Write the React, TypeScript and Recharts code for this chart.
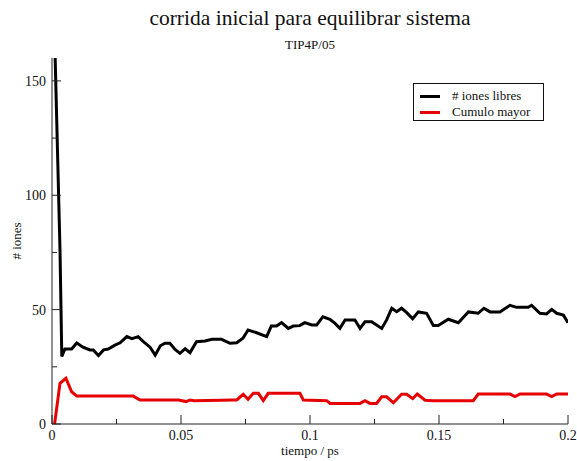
import { LineChart, Line, XAxis, YAxis, Legend } from 'recharts'

const SERIF = "'Liberation Serif', 'DejaVu Serif', serif"
const AXIS = '#222'

const xTicks = [0, 0.025, 0.05, 0.075, 0.1, 0.125, 0.15, 0.175, 0.2]
const xMajor = [0, 0.05, 0.1, 0.15, 0.2]
const yTicks = [0, 25, 50, 75, 100, 125, 150]
const yMajor = [0, 50, 100, 150]

// # iones libres
const tiempoLibres = [
  0.001, 0.0031, 0.0038, 0.005, 0.0076, 0.0096, 0.012, 0.0147, 0.016, 0.018,
  0.02, 0.0218, 0.0244, 0.0264, 0.029, 0.031, 0.0334, 0.0354, 0.038, 0.04,
  0.042, 0.0438, 0.0457, 0.0477, 0.0496, 0.0516, 0.0535, 0.056, 0.0593, 0.062,
  0.0657, 0.069, 0.0716, 0.074, 0.076, 0.0793, 0.0832, 0.085, 0.087, 0.089,
  0.0916, 0.0935, 0.096, 0.098, 0.1007, 0.1026, 0.105, 0.1077, 0.1097, 0.1116,
  0.1136, 0.1174, 0.1194, 0.1213, 0.1239, 0.1278, 0.1297, 0.1317, 0.1336, 0.1355,
  0.1375, 0.1398, 0.142, 0.1452, 0.1478, 0.1497, 0.1536, 0.1575, 0.1614, 0.1652,
  0.1674, 0.1698, 0.1736, 0.1775, 0.1801, 0.1846, 0.1859, 0.1891, 0.1917, 0.1937,
  0.1956, 0.1982, 0.2,
]
const ionesLibres = [
  170, 76, 29.5, 32.8, 32.8, 35.4, 33.6, 32.4, 32.4, 29.9,
  32.4, 32.8, 34.5, 35.5, 38.2, 37.3, 38.2, 36, 33.6, 30.1,
  34.2, 35.3, 35.3, 32.6, 30.9, 32.9, 31.2, 36, 36.3, 37,
  37, 35.3, 35.5, 37.5, 41.1, 39.9, 38.2, 42.8, 42.8, 44.3,
  41.8, 42.8, 43, 44.3, 43.3, 43.3, 46.9, 45.8, 44, 41.8,
  45.5, 45.5, 41.8, 44.7, 44.7, 41.8, 45.5, 50.6, 49.1, 50.6,
  48.7, 46, 49, 48.4, 43.1, 43.1, 45.8, 44.3, 49, 48.4,
  50.6, 49, 49, 51.9, 51, 51, 51.9, 48.4, 48.1, 50.1,
  48.4, 47.6, 44.3,
]

// Cumulo mayor
const tiempoCumulo = [
  0.001, 0.0031, 0.0054, 0.0076, 0.0096, 0.0315, 0.0341, 0.049, 0.052, 0.0535,
  0.055, 0.0703, 0.0716, 0.0741, 0.076, 0.078, 0.08, 0.0819, 0.0838, 0.0961,
  0.0974, 0.1065, 0.1078, 0.1194, 0.1213, 0.1233, 0.1258, 0.1278, 0.1297, 0.1323,
  0.1355, 0.1375, 0.1398, 0.1416, 0.1446, 0.1478, 0.1633, 0.1652, 0.1775, 0.1795,
  0.1814, 0.1917, 0.1937, 0.1956, 0.2,
]
const ionesCumulo = [
  0, 17.8, 20, 14.1, 12.2, 12.2, 10.5, 10.5, 9.8, 10.5,
  10.2, 10.5, 10.5, 13, 10.8, 13.4, 13.4, 10.2, 13.4, 13.4,
  10.5, 10.2, 9, 9, 10.2, 9, 9, 11.9, 11.9, 9.3,
  13, 13, 11.1, 13.1, 10.4, 10.2, 10.2, 13.1, 13.1, 12,
  13.1, 13.1, 12, 13.1, 13.1,
]

const libres = tiempoLibres.map((t, i) => ({ t, v: ionesLibres[i] }))
const cumulo = tiempoCumulo.map((t, i) => ({ t, v: ionesCumulo[i] }))

const isMajor = (list: number[], v: number) => list.some((m) => Math.abs(m - v) < 1e-9)
const tickLen = (major: boolean) => (major ? 9 : 5)
const labelStyle = { fontSize: 14, fontFamily: SERIF, fill: '#111' }

// custom ticks so they point into the plot, xmgrace style
function LeftTick({ x, y, payload }: any) {
  const major = isMajor(yMajor, payload.value)
  const edge = x + 6
  return (
    <g>
      <line x1={edge} x2={edge + tickLen(major)} y1={y} y2={y} stroke={AXIS} />
      {major && <text x={x} y={y} dy={5} textAnchor="end" style={labelStyle}>{payload.value}</text>}
    </g>
  )
}

function BottomTick({ x, y, payload }: any) {
  const major = isMajor(xMajor, payload.value)
  const edge = y - 6
  return (
    <g>
      <line x1={x} x2={x} y1={edge} y2={edge - tickLen(major)} stroke={AXIS} />
      {major && <text x={x} y={y} dy={10} textAnchor="middle" style={labelStyle}>{payload.value}</text>}
    </g>
  )
}

function TopTick({ x, y, payload }: any) {
  const major = isMajor(xMajor, payload.value)
  return <line x1={x} x2={x} y1={y} y2={y + tickLen(major)} stroke={AXIS} />
}

function RightTick({ x, y, payload }: any) {
  const major = isMajor(yMajor, payload.value)
  return <line x1={x} x2={x - tickLen(major)} y1={y} y2={y} stroke={AXIS} />
}

function LegendBox({ payload }: any) {
  return (
    <div style={{ border: '1px solid #111', background: '#fff', padding: '4px 6px', width: 131, height: 38, boxSizing: 'border-box', fontFamily: SERIF, fontSize: 13, color: '#111' }}>
      {(payload || []).map((p: any) => (
        <div key={p.value} style={{ display: 'flex', alignItems: 'center', height: 16, lineHeight: '16px' }}>
          <span style={{ display: 'inline-block', width: 20, height: 3, background: p.color, marginRight: 12 }} />
          <span>{p.value}</span>
        </div>
      ))}
    </div>
  )
}

export default function App() {
  return (
    <div style={{ position: 'absolute', left: 0, top: 0, width: 577, height: 461, background: '#fff', fontFamily: SERIF }}>
      <div style={{ position: 'absolute', left: 52, width: 516, top: 5, textAlign: 'center', fontSize: 21.5, lineHeight: '26px', color: '#111' }}>
        corrida inicial para equilibrar sistema
      </div>
      <div style={{ position: 'absolute', left: 52, width: 516, top: 37, textAlign: 'center', fontSize: 13, lineHeight: '16px', color: '#111' }}>
        TIP4P/05
      </div>
      <div style={{ position: 'absolute', left: 52, width: 516, top: 444, textAlign: 'center', fontSize: 13, lineHeight: '14px', color: '#111' }}>
        tiempo / ps
      </div>
      <div style={{ position: 'absolute', left: 17, top: 241, transform: 'translate(-50%, -50%) rotate(-90deg)', fontSize: 13, lineHeight: '16px', whiteSpace: 'nowrap', color: '#111' }}>
        # iones
      </div>
      <LineChart width={577} height={461} margin={{ top: 58, right: 9, bottom: 0, left: 0 }}>
        <XAxis dataKey="t" type="number" domain={[0, 0.2]} ticks={xTicks} interval={0} allowDataOverflow
          height={37} tickSize={0} tickMargin={6} tick={<BottomTick />} axisLine={{ stroke: AXIS }} />
        <XAxis xAxisId="top" orientation="top" type="number" domain={[0, 0.2]} ticks={xTicks} interval={0}
          height={0} tickSize={0} tickMargin={0} tick={<TopTick />} axisLine={{ stroke: AXIS }} />
        <YAxis type="number" domain={[0, 160]} ticks={yTicks} interval={0} allowDataOverflow
          width={52} tickSize={0} tickMargin={6} tick={<LeftTick />} axisLine={{ stroke: AXIS }} />
        <YAxis yAxisId="right" orientation="right" type="number" domain={[0, 160]} ticks={yTicks} interval={0}
          width={0} tickSize={0} tickMargin={0} tick={<RightTick />} axisLine={{ stroke: AXIS }} />
        <Legend layout="vertical" align="center" verticalAlign="middle" content={<LegendBox />}
          wrapperStyle={{ left: 413, top: 83, width: 131, height: 38 }} />
        <Line data={libres} dataKey="v" name="# iones libres" type="linear" stroke="#000" strokeWidth={3}
          dot={false} isAnimationActive={false} />
        <Line data={cumulo} dataKey="v" name="Cumulo mayor" type="linear" stroke="#e60000" strokeWidth={3}
          dot={false} isAnimationActive={false} />
      </LineChart>
    </div>
  )
}
